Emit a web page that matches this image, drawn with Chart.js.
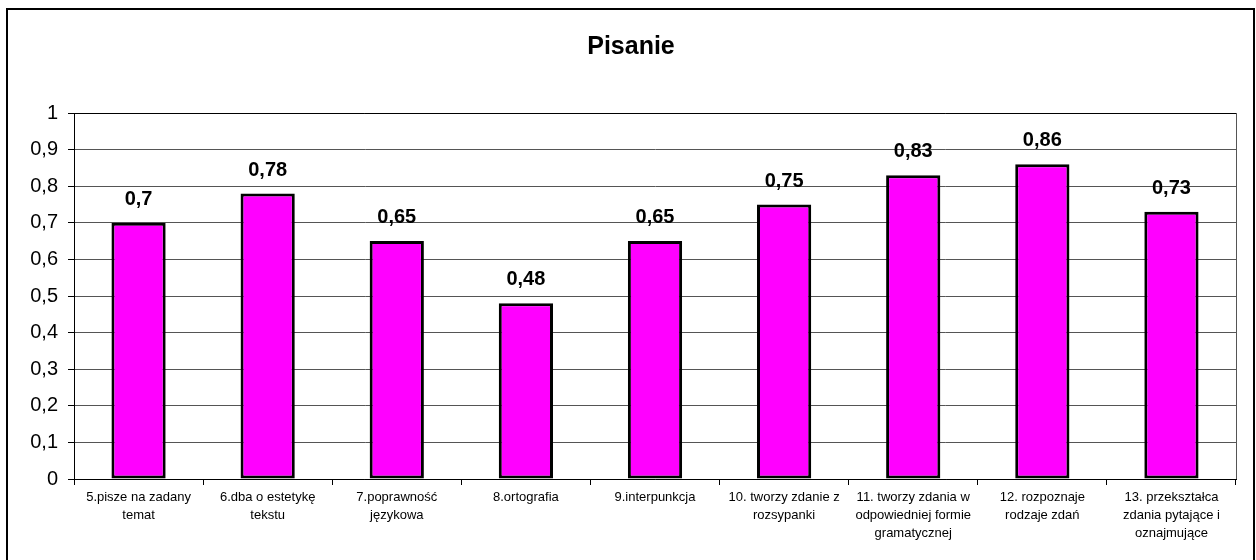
<!DOCTYPE html>
<html>
<head>
<meta charset="utf-8">
<script src="https://cdn.jsdelivr.net/npm/chart.js@4/dist/chart.umd.min.js"></script>
<style>
  html, body { margin: 0; padding: 0; background: #fff; }
  #wrap { width: 1256px; height: 560px; position: relative; }
</style>
</head>
<body>
<div id="wrap"><canvas id="chart"></canvas></div>
<script>
// Chart data
const chartTitle = 'Pisanie';
const categories = [
    ['5.pisze na zadany', 'temat'],
    ['6.dba o estetykę', 'tekstu'],
    ['7.poprawność', 'językowa'],
    ['8.ortografia'],
    ['9.interpunkcja'],
    ['10. tworzy zdanie z', 'rozsypanki'],
    ['11. tworzy zdania w', 'odpowiedniej formie', 'gramatycznej'],
    ['12. rozpoznaje', 'rodzaje zdań'],
    ['13. przekształca', 'zdania pytające i', 'oznajmujące']
];
const values = [0.7, 0.78, 0.65, 0.48, 0.65, 0.75, 0.83, 0.86, 0.73];
const yMin = 0;
const yMax = 1;
const yStep = 0.1;

const FONT = '"Liberation Sans", Arial, sans-serif';

// comma as decimal separator
function fmt(v) {
    return String(Math.round(v * 100) / 100).replace('.', ',');
}

// Frame, title, right border of plot and value labels
const decorPlugin = {
    id: 'decor',
    afterDraw(chart) {
        const ctx = chart.ctx;
        const area = chart.chartArea;
        ctx.save();

        // outer frame
        ctx.strokeStyle = '#000';
        ctx.lineWidth = 2;
        ctx.strokeRect(7, 9, 1247, 560);

        // right edge of plot
        ctx.strokeStyle = '#555';
        ctx.lineWidth = 1;
        ctx.beginPath();
        ctx.moveTo(Math.round(area.right) + 0.5, area.top);
        ctx.lineTo(Math.round(area.right) + 0.5, area.bottom);
        ctx.stroke();

        // top edge
        ctx.strokeStyle = '#000';
        ctx.beginPath();
        ctx.moveTo(area.left, Math.round(area.top) + 0.5);
        ctx.lineTo(area.right, Math.round(area.top) + 0.5);
        ctx.stroke();

        // title
        ctx.fillStyle = '#000';
        ctx.font = 'bold 25px ' + FONT;
        ctx.textAlign = 'center';
        ctx.textBaseline = 'alphabetic';
        ctx.fillText(chartTitle, 631, 54);

        // value labels
        ctx.font = 'bold 20px ' + FONT;
        const meta = chart.getDatasetMeta(0);
        meta.data.forEach((bar, i) => {
            ctx.fillText(fmt(values[i]), bar.x, bar.y - 18);
        });
        ctx.restore();
    }
};

new Chart(document.getElementById('chart'), {
    type: 'bar',
    data: {
        labels: categories,
        datasets: [{
            data: values,
            backgroundColor: '#FF00FF',
            borderColor: '#000',
            borderWidth: 3,
            borderSkipped: false,
            categoryPercentage: 1,
            barPercentage: 0.42
        }]
    },
    options: {
        responsive: true,
        maintainAspectRatio: false,
        animation: false,
        devicePixelRatio: 1,
        layout: { padding: { left: 0, right: 20, top: 113, bottom: 0 } },
        plugins: {
            legend: { display: false },
            title: { display: false },
            tooltip: { enabled: false }
        },
        scales: {
            x: {
                grid: {
                    offset: true,
                    drawOnChartArea: false,
                    drawTicks: true,
                    tickLength: 6,
                    color: '#000'
                },
                border: { color: '#000', width: 1 },
                ticks: {
                    color: '#000',
                    font: { family: FONT, size: 13, lineHeight: 1.4 },
                    padding: 3,
                    maxRotation: 0,
                    autoSkip: false
                },
                afterFit(scale) { scale.height = 81; }
            },
            y: {
                min: yMin,
                max: yMax,
                grid: {
                    color: '#555',
                    lineWidth: 1,
                    drawTicks: true,
                    tickLength: 6,
                    tickColor: '#000'
                },
                border: { color: '#000', width: 1 },
                ticks: {
                    stepSize: yStep,
                    color: '#000',
                    font: { family: FONT, size: 20 },
                    padding: 10,
                    callback: (v) => fmt(v)
                },
                afterFit(scale) { scale.width = 74; }
            }
        }
    },
    plugins: [decorPlugin]
});
</script>
</body>
</html>
